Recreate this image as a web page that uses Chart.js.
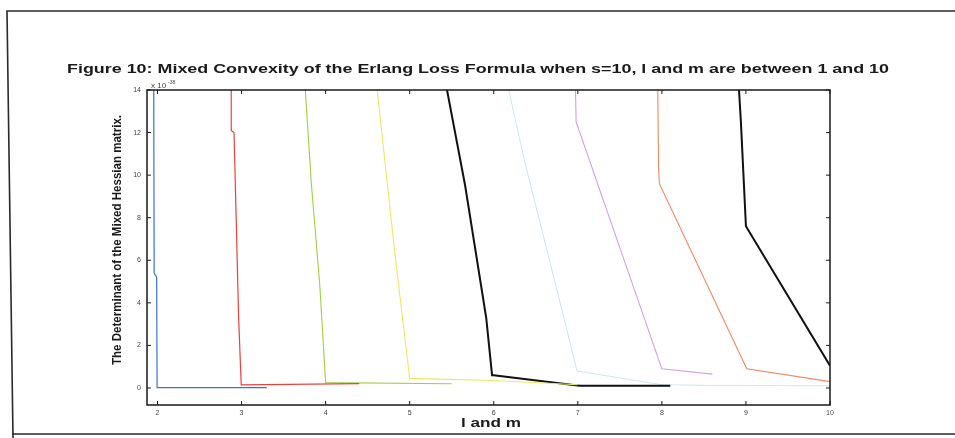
<!DOCTYPE html>
<html lang="en">
<head>
<meta charset="UTF-8" />
<title>Figure 10 - Mixed Convexity of the Erlang Loss Formula</title>
<script src="https://cdn.jsdelivr.net/npm/chart.js"></script>
<style>
body { margin: 0; background: #fff; }
#wrap { width: 955px; height: 438px; }
</style>
</head>
<body>
<div id="wrap"><canvas id="hessianChart" width="955" height="438"></canvas></div>
<script>
// tick labels
const xTicks = [2, 3, 4, 5, 6, 7, 8, 9, 10];
const yTicks = [0, 2, 4, 6, 8, 10, 12, 14];

// one curve per colour (values x 10^-38)
const blueX    = [1.955, 1.96, 1.99, 1.995, 3.3];
const blueY    = [14.5, 5.4, 5.2, 0.02, 0.02];
const redX     = [2.877, 2.877, 2.91, 2.937, 2.964, 2.996, 4.4];
const redY     = [14.5, 12.1, 12.0, 7.8, 3.4, 0.15, 0.2];
const greenX   = [3.75, 3.83, 3.93, 4.0, 5.5];
const greenY   = [14.5, 9.6, 4.85, 0.25, 0.2];
const yellowX  = [4.6, 4.82, 5.0, 6.0, 7.0];
const yellowY  = [14.5, 6.45, 0.45, 0.35, 0.15];
const blackX   = [5.42, 5.66, 5.91, 5.98, 6.0, 7.02, 8.1];
const blackY   = [14.5, 9.5, 3.3, 0.6, 0.6, 0.1, 0.1];
const cyanX    = [6.15, 6.37, 6.79, 6.99, 8.0, 8.6, 10.0];
const cyanY    = [14.5, 10.6, 4.0, 0.8, 0.15, 0.12, 0.1];
const magentaX = [6.97, 6.98, 8.0, 8.6];
const magentaY = [14.5, 12.5, 0.9, 0.65];
const orangeX  = [7.95, 7.96, 7.97, 9.01, 10.0];
const orangeY  = [14.5, 10.5, 9.6, 0.9, 0.3];
const black2X  = [8.91, 8.94, 9.0, 10.0];
const black2Y  = [14.5, 12.5, 7.6, 1.05];

function pts(xs, ys) {
    return xs.map((x, i) => ({ x: x, y: ys[i] }));
}
function series(xs, ys, color, width) {
    return {
        data: pts(xs, ys),
        borderColor: color,
        borderWidth: width,
        pointRadius: 0,
        tension: 0,
        fill: false
    };
}

// draw text squeezed/stretched to a given width
function fitText(ctx, text, cx, cy, w, font, angle) {
    ctx.save();
    ctx.font = font;
    const m = ctx.measureText(text).width;
    ctx.translate(cx, cy);
    if (angle) ctx.rotate(angle);
    ctx.scale(w / m, 1);
    ctx.textAlign = 'center';
    ctx.textBaseline = 'alphabetic';
    ctx.fillText(text, 0, 0);
    ctx.restore();
}

// frame, axes box, inward ticks and the labels of the scanned figure
const figurePlugin = {
    id: 'figure',
    afterDraw(chart) {
        const ctx = chart.ctx;
        const a = chart.chartArea;
        const xs = chart.scales.x, ys = chart.scales.y;

        // scanned page frame
        ctx.save();
        ctx.strokeStyle = '#2a2a2a';
        ctx.lineWidth = 1.6;
        ctx.beginPath();
        ctx.moveTo(955, 11); ctx.lineTo(7, 11); ctx.lineTo(13, 438);
        ctx.moveTo(12, 434); ctx.lineTo(955, 434);
        ctx.stroke();

        // axes box
        ctx.strokeStyle = '#1a1a1a';
        ctx.lineWidth = 1.5;
        ctx.strokeRect(a.left, a.top, a.right - a.left, a.bottom - a.top);

        // inward tick marks
        ctx.lineWidth = 1;
        ctx.beginPath();
        xTicks.forEach(v => {
            const p = xs.getPixelForValue(v);
            ctx.moveTo(p, a.bottom); ctx.lineTo(p, a.bottom - 4);
            ctx.moveTo(p, a.top); ctx.lineTo(p, a.top + 4);
        });
        yTicks.forEach(v => {
            const p = ys.getPixelForValue(v);
            ctx.moveTo(a.left, p); ctx.lineTo(a.left + 4, p);
            ctx.moveTo(a.right, p); ctx.lineTo(a.right - 4, p);
        });
        ctx.stroke();

        // texts
        ctx.fillStyle = '#1a1a1a';
        fitText(ctx, 'Figure 10: Mixed Convexity of the Erlang Loss Formula when s=10, l and m are between 1 and 10',
            478, 73, 822, 'bold 12px "Liberation Sans", Arial, sans-serif');
        fitText(ctx, 'The Determinant of the Mixed Hessian matrix.',
            121, 240, 250, 'bold 12px "Liberation Sans Narrow", "Liberation Sans", Arial, sans-serif', -Math.PI / 2);
        fitText(ctx, 'l and m', 491, 427, 60, 'bold 12px "Liberation Sans", Arial, sans-serif');

        ctx.fillStyle = '#444';
        ctx.font = '8px "Liberation Sans", Arial, sans-serif';
        ctx.textAlign = 'left';
        ctx.textBaseline = 'alphabetic';
        ctx.fillText('x 10', 151, 88);
        ctx.font = '5px "Liberation Sans", Arial, sans-serif';
        ctx.fillText('-38', 168, 84);
        ctx.restore();
    }
};

new Chart(document.getElementById('hessianChart'), {
    type: 'line',
    data: {
        datasets: [
            series(blueX, blueY, '#3f6fd6', 1.2),
            series(redX, redY, '#e8413f', 1.2),
            series(greenX, greenY, '#a3cf45', 1.1),
            series(yellowX, yellowY, '#e9ea62', 1.1),
            series(blackX, blackY, '#111111', 2),
            series(cyanX, cyanY, '#cfe6ee', 1),
            series(magentaX, magentaY, '#cfa2dc', 1.1),
            series(orangeX, orangeY, '#f08860', 1.1),
            series(black2X, black2Y, '#111111', 2)
        ]
    },
    options: {
        responsive: false,
        devicePixelRatio: 1,
        animation: false,
        layout: { padding: { left: 0, top: 90, right: 125, bottom: 0 } },
        plugins: {
            legend: { display: false },
            tooltip: { enabled: false },
            title: { display: false }
        },
        scales: {
            x: {
                type: 'linear',
                min: 1.875,
                max: 10,
                grid: { display: false, drawTicks: false },
                border: { display: false },
                ticks: { color: '#444', font: { size: 7, family: '"Liberation Sans", Arial' }, padding: 4, maxRotation: 0 },
                afterBuildTicks: s => { s.ticks = xTicks.map(v => ({ value: v })); },
                afterFit: s => { s.height = 33; }
            },
            y: {
                type: 'linear',
                min: -0.8,
                max: 14,
                grid: { display: false, drawTicks: false },
                border: { display: false },
                ticks: { color: '#444', font: { size: 7, family: '"Liberation Sans", Arial' }, padding: 6 },
                afterBuildTicks: s => { s.ticks = yTicks.map(v => ({ value: v })); },
                afterFit: s => { s.width = 147; }
            }
        }
    },
    plugins: [figurePlugin]
});
</script>
</body>
</html>
